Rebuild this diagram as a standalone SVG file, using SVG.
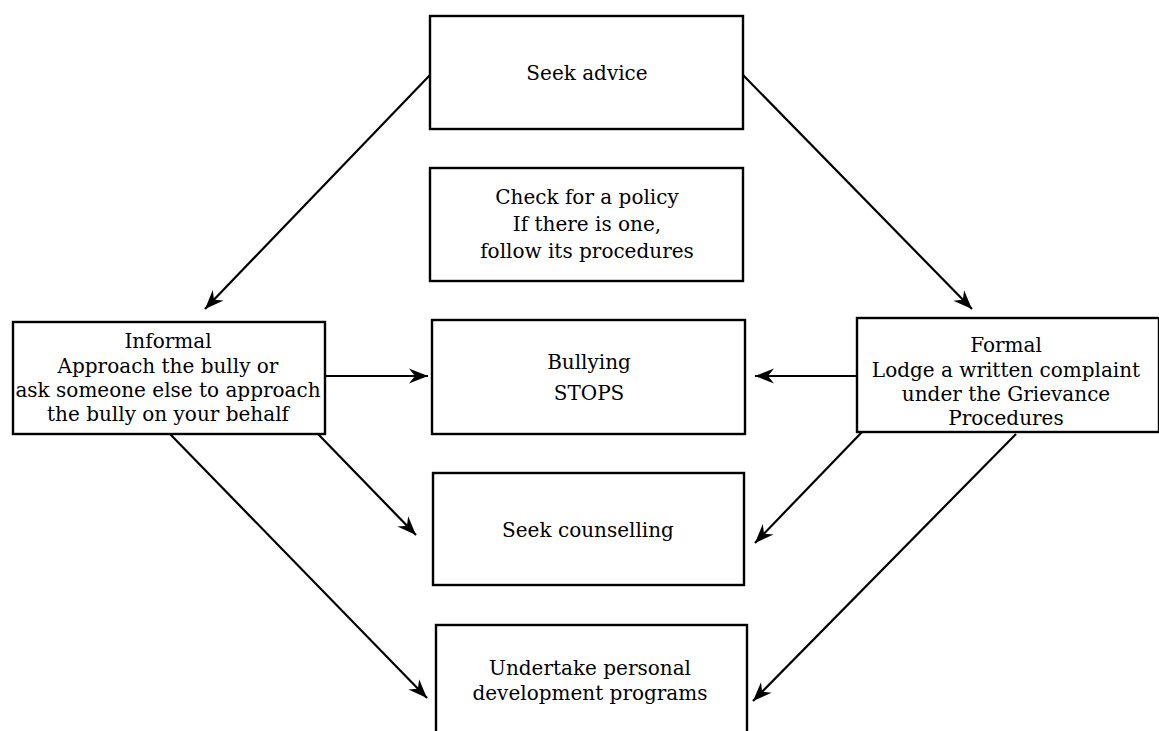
<svg xmlns="http://www.w3.org/2000/svg" width="1159" height="731" viewBox="0 0 1159 731">
<style>
.box{fill:#fff;stroke:#000;stroke-width:2.4}
.t{font-family:"DejaVu Serif","Liberation Serif",serif;font-size:20px;fill:#000;text-anchor:middle}
.c{stroke:#000;stroke-width:2.2;fill:none;marker-end:url(#ah)}
</style>
<defs>
<marker id="ah" markerUnits="userSpaceOnUse" markerWidth="26" markerHeight="18" viewBox="-20 -9 22 18" refX="0" refY="0" orient="auto">
<path d="M0,0 L-19,-7.5 L-13,0 L-19,7.5 Z" fill="#000"/>
</marker>
</defs>
<rect width="1159" height="731" fill="#fff"/>
<g id="connectors">
<line class="c" x1="430" y1="75" x2="205" y2="309"/>
<line class="c" x1="743" y1="75" x2="972" y2="309"/>
<line class="c" x1="325" y1="376" x2="428" y2="376"/>
<line class="c" x1="857" y1="376" x2="755" y2="376"/>
<line class="c" x1="318" y1="434" x2="416" y2="535"/>
<line class="c" x1="170" y1="434" x2="427" y2="698"/>
<line class="c" x1="862" y1="432" x2="755" y2="543"/>
<line class="c" x1="1016" y1="434" x2="753" y2="701"/>
</g>
<g id="seek-advice">
<rect class="box" x="430" y="16" width="313" height="113"/>
<text class="t" x="587" y="80">Seek advice</text>
</g>
<g id="check-policy">
<rect class="box" x="430" y="168" width="313" height="113"/>
<text class="t" x="587" y="204">Check for a policy</text>
<text class="t" x="587" y="231">If there is one,</text>
<text class="t" x="587" y="258">follow its procedures</text>
</g>
<g id="informal">
<rect class="box" x="13" y="322" width="312" height="112"/>
<text class="t" x="168" y="348">Informal</text>
<text class="t" x="168" y="373">Approach the bully or</text>
<text class="t" x="168" y="397">ask someone else to approach</text>
<text class="t" x="168" y="421">the bully on your behalf</text>
</g>
<g id="bullying-stops">
<rect class="box" x="432" y="320" width="313" height="114"/>
<text class="t" x="589" y="369">Bullying</text>
<text class="t" x="589" y="400">STOPS</text>
</g>
<g id="formal">
<rect class="box" x="857" y="318" width="302" height="114"/>
<text class="t" x="1006" y="352">Formal</text>
<text class="t" x="1006" y="377">Lodge a written complaint</text>
<text class="t" x="1006" y="401">under the Grievance</text>
<text class="t" x="1006" y="425">Procedures</text>
</g>
<g id="seek-counselling">
<rect class="box" x="433" y="473" width="311" height="112"/>
<text class="t" x="588" y="537">Seek counselling</text>
</g>
<g id="personal-development">
<rect class="box" x="436" y="625" width="311" height="112"/>
<text class="t" x="590" y="675">Undertake personal</text>
<text class="t" x="590" y="700">development programs</text>
</g>
</svg>
